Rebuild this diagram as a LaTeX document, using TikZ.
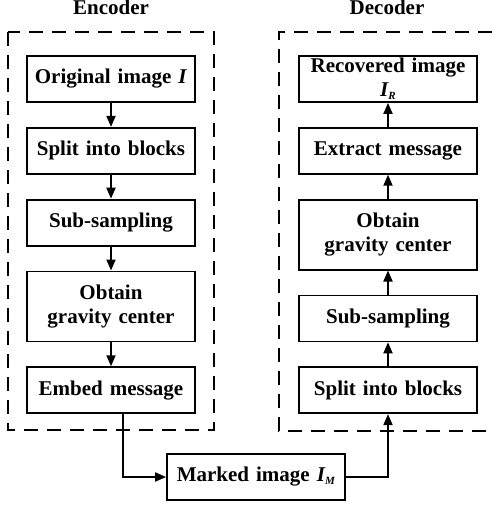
\documentclass[tikz,border=0pt]{standalone}
\usepackage{fontspec}
\setmainfont{Liberation Serif}
\usetikzlibrary{positioning, arrows.meta}

\newcommand{\imgsym}[1]{\textit{I}\kern-0.5pt\raisebox{-0.3ex}{\fontsize{11}{11}\selectfont\textit{#1}}}

\begin{document}
\begin{tikzpicture}[
  every node/.style={
    font=\fontsize{21}{24}\selectfont\bfseries
  },
  stepbox/.style={
    draw,
    line width=1.8pt,
    align=center,
    inner sep=0pt,
    minimum height=46pt
  },
  encbox/.style={
    stepbox,
    text width=168pt
  },
  decbox/.style={
    stepbox,
    text width=178pt
  },
  tallbox/.style={
    minimum height=70pt
  },
  frame/.style={
    draw,
    line width=1.8pt,
    dash pattern=on 14pt off 9pt
  },
  flow arrow/.style={
    -{Triangle[length=11pt, width=9pt]},
    line width=1.8pt
  },
  node distance=24pt
]

\useasboundingbox (0,0) rectangle (492pt,-505pt);

% frames and titles
\draw[frame] (8pt,-32pt) rectangle (214pt,-430pt);
\draw[frame] (492pt,-32pt) -- (279pt,-32pt) -- (279pt,-431pt) -- (492pt,-431pt);

\node(enctitle)[anchor=base] at (111pt,-15pt) {Encoder};
\node(dectitle)[anchor=base] at (387pt,-15pt) {Decoder};

% encoder
\node(enc1)[encbox] at (111pt,-79pt) {Original image \textit{I}};
\node(enc2)[encbox, below=of enc1] {Split into blocks};
\node(enc3)[encbox, below=of enc2] {Sub-sampling};
\node(enc4)[encbox, tallbox, below=of enc3] {Obtain\\gravity center};
\node(enc5)[encbox, below=of enc4] {Embed message};

% decoder
\node(dec1)[decbox] at (388pt,-79pt) {Recovered image\\\imgsym{R}};
\node(dec2)[decbox, below=of dec1] {Extract message};
\node(dec3)[decbox, tallbox, below=of dec2] {Obtain\\gravity center};
\node(dec4)[decbox, below=of dec3] {Sub-sampling};
\node(dec5)[decbox, below=of dec4] {Split into blocks};

% channel
\node(marked)[decbox] at (256pt,-477pt) {Marked image \imgsym{M}};

\draw[flow arrow] (enc1) -- (enc2);
\draw[flow arrow] (enc2) -- (enc3);
\draw[flow arrow] (enc3) -- (enc4);
\draw[flow arrow] (enc4) -- (enc5);
\draw[flow arrow] ([xshift=12pt]enc5.south) |- (marked.west);

\draw[flow arrow] (marked.east) -| (dec5.south);
\draw[flow arrow] (dec5) -- (dec4);
\draw[flow arrow] (dec4) -- (dec3);
\draw[flow arrow] (dec3) -- (dec2);
\draw[flow arrow] (dec2) -- (dec1);

\end{tikzpicture}
\end{document}
